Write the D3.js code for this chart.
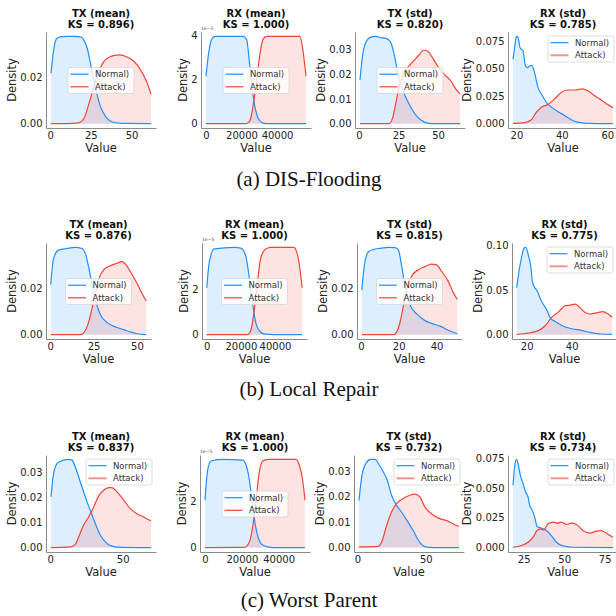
<!DOCTYPE html>
<html>
<head>
<meta charset="utf-8">
<script src="https://cdn.jsdelivr.net/npm/d3@7"></script>
<style>
  body { margin: 0; background: #fff; }
  svg { display: block; font-family: "DejaVu Sans", sans-serif; }
</style>
</head>
<body>
<div id="chart"></div>
<script>
// panel titles, KS scores and sub-figure captions
const panelTitles = ["TX (mean)", "RX (mean)", "TX (std)", "RX (std)"];
const ksValues = [
  ["0.896", "1.000", "0.820", "0.785"],
  ["0.876", "1.000", "0.815", "0.775"],
  ["0.837", "1.000", "0.732", "0.734"],
];
const captions = ["(a) DIS-Flooding", "(b) Local Repair", "(c) Worst Parent"];
const seriesNames = ["Normal)", "Attack)"];

// tick labels per panel
const xTickValues = [
  [[0, 25, 50], [0, 20000, 40000], [0, 25, 50], [20, 40, 60]],
  [[0, 25, 50], [0, 20000, 40000], [0, 20, 40], [20, 40]],
  [[0, 50], [0, 20000, 40000], [0, 50], [25, 50, 75]],
];
const yTickLabels = [
  [["0.00", "0.02"], ["0", "2", "4"], ["0.00", "0.01", "0.02", "0.03"], ["0.000", "0.025", "0.050", "0.075"]],
  [["0.00", "0.02"], ["0", "2"], ["0.00", "0.02"], ["0.00", "0.05", "0.10"]],
  [["0.00", "0.01", "0.02", "0.03"], ["0", "2"], ["0.00", "0.01", "0.02", "0.03"], ["0.000", "0.025", "0.050", "0.075"]],
];
// RX (mean) densities are given in units of 1e-5
const offsetLabels = [null, "1e\u22125", null, null];

// density curves, [value, density]
const floodTxMeanNormal = [[0.5,0.0217],[2,0.031],[3.8,0.0365],[6,0.0374],[10,0.0376],[15,0.0376],[19.3,0.0372],[21,0.0355],[22.7,0.0327],[24.5,0.027],[26.4,0.020],[28.5,0.0135],[30.6,0.008],[32.6,0.0048],[34.7,0.0025],[38.6,0.0006],[45,0.0001],[62,0]];
const floodTxMeanAttack = [[0.5,0],[15,0.0001],[17.2,0.0003],[19.3,0.001],[21.3,0.003],[22.8,0.0062],[24.4,0.010],[26.5,0.015],[28.5,0.020],[30.5,0.0235],[32.6,0.0263],[36.7,0.0288],[40.8,0.0295],[43,0.0296],[47,0.0288],[51.1,0.0271],[55.3,0.0235],[59.4,0.0179],[62,0.0127]];
const floodRxMeanNormal = [[0,2.14],[1500,3.2],[3400,3.85],[5300,3.95],[21000,3.95],[22900,3.8],[24300,2.9],[25700,1.81],[27600,0.75],[29500,0.22],[31500,0.05],[34000,0],[56300,0]];
const floodRxMeanAttack = [[0,0],[22900,0],[24800,0.15],[26700,0.9],[28500,1.96],[30400,3.17],[32300,3.85],[34200,3.95],[52900,3.95],[54800,3.17],[56300,2.14]];
const floodTxStdNormal = [[0.6,0.0176],[2.2,0.0273],[4.2,0.0326],[7.4,0.0349],[10.5,0.0352],[13.7,0.0347],[16.9,0.0344],[19.6,0.0333],[21,0.031],[22.2,0.028],[24.3,0.0213],[26.4,0.016],[29.5,0.0107],[32.7,0.0067],[36.9,0.0027],[41.1,0.0007],[45.4,0],[63.9,0]];
const floodTxStdAttack = [[0.6,0],[19,0],[21.1,0.002],[23.2,0.008],[25.3,0.0147],[28.5,0.0207],[32.7,0.024],[36.9,0.0269],[41.1,0.0296],[43.3,0.0293],[46.4,0.0267],[49.6,0.0233],[53.8,0.020],[58,0.0173],[61.2,0.014],[63.9,0.012]];
const floodRxStdNormal = [[18.5,0.0585],[19.3,0.0704],[20,0.0794],[20.7,0.0785],[21.6,0.069],[22.9,0.066],[24,0.0524],[24.8,0.051],[25.8,0.0524],[26.8,0.053],[28,0.0464],[29.5,0.033],[31,0.027],[33.2,0.0194],[35.4,0.015],[38.2,0.011],[41.2,0.0075],[44.1,0.0036],[47,0.0013],[51.4,0.0002],[62.4,0]];
const floodRxStdAttack = [[18.5,0.0003],[23.6,0.001],[26.6,0.0036],[28.8,0.0104],[31,0.015],[33.9,0.0174],[36.8,0.0225],[39.7,0.0284],[42.6,0.0306],[45.6,0.0306],[49.2,0.0317],[51.4,0.030],[54.3,0.0255],[57.3,0.0216],[60.2,0.0174],[62.5,0.0144]];

const repairTxMeanNormal = [[0.3,0.0217],[1.9,0.0331],[4.8,0.0367],[9.6,0.0374],[14.4,0.0379],[18.3,0.0374],[20.2,0.0353],[22.1,0.0296],[24,0.0224],[26,0.0153],[28.8,0.0089],[32.7,0.0053],[38.5,0.0031],[44.2,0.0017],[50,0.0004],[55.4,0]];
const repairTxMeanAttack = [[0.3,0],[17.3,0],[20.2,0.0017],[22.1,0.0053],[24,0.011],[26,0.018],[27.9,0.0239],[30.8,0.0281],[34.6,0.0299],[38.5,0.031],[41.3,0.0317],[43.3,0.0307],[46.2,0.0274],[50,0.0224],[52.9,0.018],[55.4,0.0146]];
const repairRxMeanNormal = [[0,2.07],[1550,3.24],[4430,3.78],[16100,3.85],[20000,3.82],[22900,3.46],[24800,2.58],[26800,1.42],[28700,0.54],[30700,0.18],[33600,0.03],[39400,0],[56000,0]];
const repairRxMeanAttack = [[0,0],[23900,0],[25800,0.18],[27700,0.98],[29700,2.29],[31700,3.39],[34600,3.78],[37500,3.85],[51100,3.85],[53600,3.39],[56000,2.07]];
const repairTxStdNormal = [[0.5,0.0194],[1.8,0.0297],[4,0.0361],[6.7,0.0371],[10.2,0.0376],[14.6,0.038],[18.1,0.0379],[19.8,0.0369],[21.6,0.0297],[23.3,0.0211],[26,0.0129],[29.5,0.009],[33.9,0.0061],[38.2,0.0047],[41.8,0.0037],[46.1,0.0019],[50.9,0.0004]];
const repairTxStdAttack = [[0.5,0],[17.2,0],[18.9,0.0011],[20.7,0.0054],[22.5,0.0126],[24.2,0.0197],[26.8,0.0254],[30.4,0.0283],[33.9,0.0297],[37.4,0.0307],[40,0.0304],[42.6,0.0276],[46.1,0.0233],[48.8,0.0183],[50.9,0.0154]];
const repairRxStdNormal = [[15.6,0.0528],[16.6,0.0712],[17.8,0.0878],[18.8,0.097],[19.6,0.098],[20.7,0.0897],[21.8,0.0768],[22.5,0.0601],[23.2,0.0546],[24.7,0.0491],[26.1,0.0399],[27.6,0.0332],[29.1,0.0269],[30.5,0.0185],[32.7,0.0148],[35.6,0.0103],[40,0.0066],[44.4,0.0048],[48.8,0.0022],[53.1,0.0007],[58,0.0003]];
const repairRxStdAttack = [[15.6,0.0004],[21,0.0018],[25.4,0.0048],[28.3,0.0103],[31.2,0.0196],[34.2,0.0258],[37.1,0.0325],[39.3,0.0332],[41.5,0.0343],[43.6,0.0306],[45.8,0.0251],[48,0.0232],[50.9,0.0244],[53.9,0.0258],[56.1,0.0232],[58,0.0196]];

const parentTxMeanNormal = [[0.5,0.0202],[2.3,0.0295],[5.1,0.0337],[9.2,0.0348],[12.7,0.0351],[15,0.0348],[17.3,0.0321],[20.7,0.0262],[24.2,0.0202],[27.6,0.0149],[31.1,0.0096],[34.6,0.0049],[38,0.0023],[41.5,0.0008],[48.4,0.0001],[69.6,0]];
const parentTxMeanAttack = [[0.5,0],[13.8,0.0003],[17.3,0.0013],[19.6,0.0042],[23,0.0089],[26.5,0.0122],[30,0.0162],[33.4,0.0205],[36.9,0.0228],[40.3,0.0239],[42.6,0.0239],[46.1,0.0222],[50.7,0.0189],[55.3,0.0155],[59.9,0.0135],[64.5,0.0122],[69.6,0.0106]];
const parentRxMeanNormal = [[0,2.03],[1450,3.31],[3260,3.7],[8700,3.77],[20400,3.74],[22300,3.53],[24100,2.89],[25900,1.74],[27700,0.81],[30400,0.17],[34000,0.03],[37000,0],[54300,0]];
const parentRxMeanAttack = [[0,0],[21400,0.01],[24100,0.24],[25900,0.89],[27700,2.03],[29500,3.24],[31300,3.7],[34000,3.77],[49400,3.77],[51200,3.53],[53000,2.89],[54300,2.03]];
const parentTxStdNormal = [[1.2,0.0186],[3.2,0.0279],[6.3,0.0332],[9.7,0.0347],[12.9,0.0347],[16,0.0325],[18.9,0.0299],[21.8,0.0266],[25,0.0206],[28.6,0.0166],[32.3,0.014],[35.9,0.011],[40.8,0.0067],[45.6,0.0021],[49.3,0.0004],[55.3,0],[74.3,0]];
const parentTxStdAttack = [[1.2,0.0003],[15.3,0.0005],[17.7,0.0021],[21.4,0.0087],[25,0.014],[28.6,0.0173],[33.5,0.0193],[38.3,0.0206],[42,0.021],[45.6,0.020],[49.3,0.016],[54.1,0.0133],[60.2,0.0114],[65,0.0107],[69.9,0.0094],[74.3,0.0083]];
const parentRxStdNormal = [[18.4,0.0522],[19.4,0.0677],[20.5,0.0739],[21.5,0.0705],[22.9,0.0607],[24.6,0.0537],[26.2,0.0466],[27.7,0.0424],[28.7,0.0354],[30.3,0.0312],[31.8,0.0256],[33.2,0.0177],[35.9,0.0163],[39,0.0143],[42.1,0.0101],[45.2,0.0045],[49.3,0.0014],[55.5,0.0003],[80.1,0]];
const parentRxStdAttack = [[18.4,0.0003],[23.6,0.0017],[27.7,0.0045],[30.8,0.0087],[33.2,0.0143],[35.3,0.0157],[37.3,0.0149],[40,0.0199],[43.1,0.0213],[46.2,0.0205],[48.3,0.0213],[51.3,0.0194],[54.4,0.0205],[57.5,0.0194],[61.6,0.0143],[65.7,0.0121],[69.9,0.0138],[73,0.0143],[76,0.0121],[80.1,0.0087]];

const normalCurves = [
  [floodTxMeanNormal, floodRxMeanNormal, floodTxStdNormal, floodRxStdNormal],
  [repairTxMeanNormal, repairRxMeanNormal, repairTxStdNormal, repairRxStdNormal],
  [parentTxMeanNormal, parentRxMeanNormal, parentTxStdNormal, parentRxStdNormal],
];
const attackCurves = [
  [floodTxMeanAttack, floodRxMeanAttack, floodTxStdAttack, floodRxStdAttack],
  [repairTxMeanAttack, repairRxMeanAttack, repairTxStdAttack, repairRxStdAttack],
  [parentTxMeanAttack, parentRxMeanAttack, parentTxStdAttack, parentRxStdAttack],
];

// layout
const W = 616, H = 616;
const rowLayout = [
  { top: 32, h: 96, w: 110, lefts: [46, 201, 355, 508], caption: 186 },
  { top: 243, h: 96, w: 105, lefts: [46, 202, 357, 512], caption: 396 },
  { top: 455, h: 97, w: 110, lefts: [46, 200, 354, 508], caption: 607 },
];
const legendLocs = [
  ["center", "center", "center", "upper right"],
  ["center", "center", "center", "upper right"],
  ["upper right", "center", "upper right", "upper right"],
];
const blue = "#1e90ff", red = "#f44336";

const svg = d3.select("#chart").append("svg")
  .attr("width", W).attr("height", H)
  .attr("viewBox", [0, 0, W, H]);

rowLayout.forEach((row, r) => {
  row.lefts.forEach((left, c) => {
    drawPanel(r, c, left, row.top, row.w, row.h);
  });
  svg.append("text")
    .attr("x", 309).attr("y", row.caption)
    .attr("text-anchor", "middle")
    .style("font-family", "'Liberation Serif', 'Times New Roman', serif")
    .style("font-size", "21px")
    .attr("fill", "#111")
    .text(captions[r]);
});

function drawPanel(r, c, left, top, w, h) {
  const normal = normalCurves[r][c];
  const attack = attackCurves[r][c];
  const all = normal.concat(attack);

  const [x0, x1] = d3.extent(all, (d) => d[0]);
  const pad = (x1 - x0) * 0.05;
  const ymax = d3.max(all, (d) => d[1]);

  const x = d3.scaleLinear().domain([x0 - pad, x1 + pad]).range([0, w]);
  const y = d3.scaleLinear().domain([-0.05 * ymax, 1.05 * ymax]).range([h, 0]);

  const g = svg.append("g").attr("transform", `translate(${left},${top})`);

  const area = d3.area()
    .x((d) => x(d[0]))
    .y0(y(0))
    .y1((d) => y(d[1]))
    .curve(d3.curveMonotoneX);
  const line = d3.line()
    .x((d) => x(d[0]))
    .y((d) => y(d[1]))
    .curve(d3.curveMonotoneX);

  g.append("path").datum(normal).attr("d", area).attr("fill", blue).attr("fill-opacity", 0.15);
  g.append("path").datum(attack).attr("d", area).attr("fill", red).attr("fill-opacity", 0.15);
  g.append("path").datum(normal).attr("d", line).attr("fill", "none").attr("stroke", blue).attr("stroke-width", 1.2);
  g.append("path").datum(attack).attr("d", line).attr("fill", "none").attr("stroke", red).attr("stroke-width", 1.2);

  // axes (left and bottom spines only)
  const xAxis = g.append("g")
    .attr("transform", `translate(0,${h})`)
    .call(d3.axisBottom(x).tickValues(xTickValues[r][c]).tickSize(0).tickPadding(4).tickFormat(d3.format("d")));
  const yLabels = yTickLabels[r][c];
  const yAxis = g.append("g")
    .call(d3.axisLeft(y).tickValues(yLabels.map(Number)).tickSize(0).tickPadding(3.5)
      .tickFormat((d, i) => yLabels[i]));

  [xAxis, yAxis].forEach((a) => {
    a.select(".domain").attr("stroke", "#8a8a8a").attr("stroke-width", 1);
    a.selectAll("text").attr("fill", "#222").style("font-size", "10px")
      .style("font-family", "'DejaVu Sans', sans-serif");
  });

  let minX = 0;
  yAxis.selectAll(".tick text").each(function () {
    const b = this.getBBox();
    minX = Math.min(minX, b.x);
  });

  g.append("text")
    .attr("transform", `translate(${minX - 4.5},${h / 2}) rotate(-90)`)
    .attr("text-anchor", "middle")
    .style("font-size", "11.5px")
    .attr("fill", "#222")
    .text("Density");

  g.append("text")
    .attr("x", w / 2).attr("y", h + 24)
    .attr("text-anchor", "middle")
    .style("font-size", "11.5px")
    .attr("fill", "#222")
    .text("Value");

  if (offsetLabels[c]) {
    g.append("text")
      .attr("x", 0).attr("y", -2.5)
      .style("font-size", "4.5px")
      .attr("fill", "#444")
      .text(offsetLabels[c]);
  }

  // two-line bold title
  const title = g.append("text")
    .attr("text-anchor", "middle")
    .style("font-size", "10px")
    .style("font-weight", "bold")
    .attr("fill", "#111");
  title.append("tspan").attr("x", w / 2).attr("y", -15).text(panelTitles[c]);
  title.append("tspan").attr("x", w / 2).attr("y", -4).text(`KS = ${ksValues[r][c]})`);

  // legend
  const lw = 66, lh = 26;
  const loc = legendLocs[r][c];
  const lx = loc === "center" ? (w - lw) / 2 : w - lw - 4;
  const ly = loc === "center" ? (h - lh) / 2 + 0.5 : 4;
  const leg = g.append("g").attr("transform", `translate(${lx},${ly})`);
  leg.append("rect")
    .attr("width", lw).attr("height", lh).attr("rx", 2)
    .attr("fill", "#fff").attr("fill-opacity", 0.8)
    .attr("stroke", "#d6d6d6").attr("stroke-width", 0.8);
  seriesNames.forEach((name, i) => {
    const yy = 6.7 + i * 12.6;
    const salmon = i === 1 && loc !== "center";
    leg.append("line")
      .attr("x1", 2.5).attr("x2", 20.5).attr("y1", yy).attr("y2", yy)
      .attr("stroke", i === 0 ? blue : (salmon ? "#f4938b" : red))
      .attr("stroke-width", salmon ? 2 : 1.2);
    leg.append("text")
      .attr("x", 27).attr("y", yy + 3)
      .style("font-size", "8.5px")
      .attr("fill", "#333")
      .text(name);
  });
}
</script>
</body>
</html>
